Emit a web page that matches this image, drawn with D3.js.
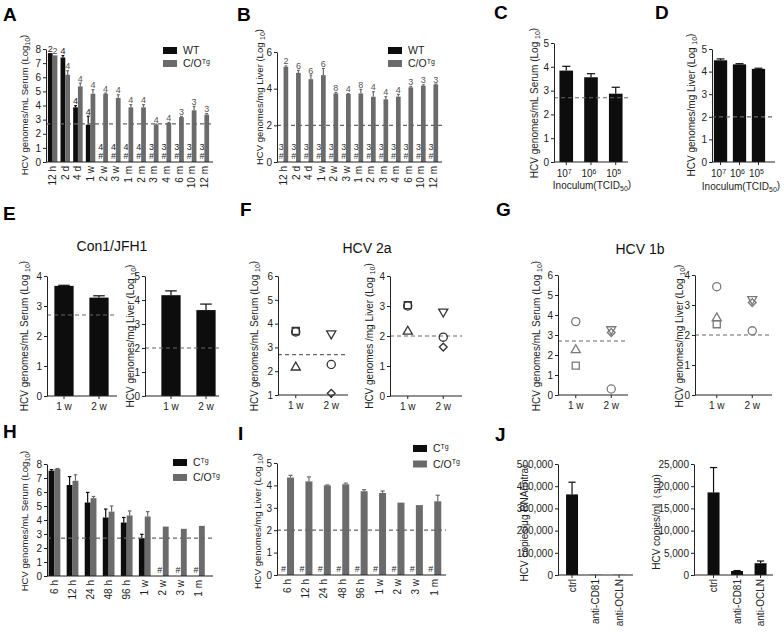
<!DOCTYPE html>
<meta charset="utf-8">
<script src="https://d3js.org/d3.v7.min.js"></script>
<style>
body { margin: 0; background: #fff; }
svg { font-family: "Liberation Sans", Arial, sans-serif; }
.axis text { font-size: 10px; fill: #222; }
.axis path, .axis line { stroke: #222; }
</style>
<body></body>
<script>
// ---------- data ----------
// A: serum, WT vs C/O Tg
var timeA = ["12 h","2 d","4 d","1 w","2 w","3 w","1 m","2 m","3 m","4 m","6 m","10 m","12 m"];
var wtSerumA = [7.71, 7.4, 3.87, 2.64, null, null, null, null, null, null, null, null, null];
var wtSerumErrA = [0, 0.13, 0.12, 0.6, 0, 0, 0, 0, 0, 0, 0, 0, 0];
var wtSerumNA = [2, 4, 4, 4, 4, 4, 4, 4, 3, 3, 3, 3, 3];
var coSerumA = [7.55, 6.18, 5.35, 4.83, 4.83, 4.53, 3.87, 3.87, 2.64, 2.76, 3.18, 3.66, 3.35];
var coSerumErrA = [0, 0.28, 0.24, 0.29, 0.05, 0.23, 0.19, 0.19, 0.04, 0.04, 0.05, 0.28, 0.08];
var coSerumNA = [2, 4, 4, 4, 4, 4, 4, 4, 4, 4, 3, 3, 3];

// B: liver, WT vs C/O Tg
var wtLiverB = [null, null, null, null, null, null, null, null, null, null, null, null, null];
var wtLiverNB = [3, 3, 3, 3, 3, 3, 3, 3, 3, 3, 3, 3, 3];
var coLiverB = [5.19, 4.86, 4.52, 4.74, 3.74, 3.71, 3.74, 3.56, 3.42, 3.56, 4.07, 4.16, 4.23];
var coLiverErrB = [0.05, 0.14, 0.22, 0.36, 0.05, 0.02, 0.22, 0.27, 0.14, 0.13, 0.05, 0.05, 0.02];
var coLiverNB = [2, 6, 6, 6, 8, 4, 8, 4, 4, 4, 3, 3, 3];

// C, D: inoculum dose (10^x TCID50)
var inoculum = ["7", "6", "5"];
var doseSerumC = [3.84, 3.56, 2.87];
var doseSerumErrC = [0.18, 0.15, 0.27];
var doseLiverD = [4.5, 4.32, 4.12];
var doseLiverErrD = [0.06, 0.03, 0.03];

// E: Con1/JFH1
var weeks = ["1 w", "2 w"];
var conSerumE = [3.67, 3.28];
var conSerumErrE = [0.02, 0.06];
var conLiverE = [4.2, 3.58];
var conLiverErrE = [0.18, 0.25];

// F: HCV 2a, individual animals
var hcv2aTime = ["1 w", "1 w", "1 w", "2 w", "2 w", "2 w"];
var hcv2aShape = ["square", "circle", "triangle", "triangleDown", "circle", "diamond"];
var hcv2aSerum = [3.69, 3.65, 2.16, 3.58, 2.28, 1.07];
var hcv2aLiver = [3.03, 3.0, 2.15, 2.81, 1.96, 1.63];

// G: HCV 1b, individual animals
var hcv1bTime = ["1 w", "1 w", "1 w", "2 w", "2 w", "2 w"];
var hcv1bShape = ["circle", "triangle", "square", "triangleDown", "diamond", "circle"];
var hcv1bSerum = [3.67, 2.25, 1.47, 3.28, 3.12, 0.3];
var hcv1bLiver = [3.61, 2.56, 2.36, 3.19, 3.08, 2.14];

// H, I: C Tg vs C/O Tg
var timeH = ["6 h","12 h","24 h","48 h","96 h","1 w","2 w","3 w","1 m"];
var cSerumH = [7.52, 6.5, 5.25, 4.18, 3.82, 2.7, null, null, null];
var cSerumErrH = [0.08, 0.6, 0.72, 0.6, 0.36, 0.28, 0, 0, 0];
var coSerumH = [7.66, 6.8, 5.56, 4.6, 4.32, 4.25, 3.53, 3.37, 3.58];
var coSerumErrH = [0.02, 0.43, 0.12, 0.4, 0.33, 0.35, 0, 0, 0];
var cLiverI = [null, null, null, null, null, null, null, null, null];
var coLiverI = [4.35, 4.18, 4.0, 4.05, 3.74, 3.66, 3.23, 3.12, 3.29];
var coLiverErrI = [0.1, 0.2, 0.02, 0.05, 0.07, 0.09, 0, 0, 0.27];

// J: antibody blocking
var treatJ = ["ctrl", "anti-CD81", "anti-OCLN"];
var intraJ = [363000, 1000, 800];
var intraErrJ = [55000, 0, 0];
var supJ = [18600, 900, 2650];
var supErrJ = [5600, 100, 500];

var BLACK = "#0d0d0d", GREY = "#6b6b6b", DASH = "#666";

var svg = d3.select("body").append("svg")
  .attr("width", 784)
  .attr("height", 633);

// ---------- helpers ----------
function letter(t, x, y) {
  svg.append("text").attr("x", x).attr("y", y)
    .style("font-size", "19px").style("font-weight", "bold").text(t);
}

function title(t, x, y) {
  svg.append("text").attr("x", x).attr("y", y).attr("text-anchor", "middle")
    .style("font-size", "14px").attr("fill", "#111").text(t);
}

function yLabel(x, yc, main, sub, tail, size) {
  var t = svg.append("text")
    .attr("transform", "translate(" + (x + 3) + "," + yc + ") rotate(-90)")
    .attr("text-anchor", "middle")
    .style("font-size", (size || 10) + "px")
    .attr("fill", "#222");
  t.append("tspan").text(main);
  if (sub) {
    t.append("tspan").attr("dy", "0.3em").style("font-size", "7px").text(sub);
    t.append("tspan").attr("dy", "-0.3em").text(tail);
  }
}

function legend(x, y, gap, names, sups, colors) {
  names.forEach(function(n, i) {
    svg.append("rect").attr("x", x).attr("y", y + i * gap)
      .attr("width", 14).attr("height", 7).attr("fill", colors[i]);
    var t = svg.append("text").attr("x", x + 20).attr("y", y + i * gap + 7)
      .style("font-size", "10.5px").attr("fill", "#222");
    t.append("tspan").text(n);
    t.append("tspan").attr("dy", "-0.45em").style("font-size", "7px").text(sups[i]);
  });
}

function yAxis(y, x0, ticks, fmt) {
  svg.append("g").attr("class", "axis")
    .attr("transform", "translate(" + x0 + ",0)")
    .call(d3.axisLeft(y).tickValues(ticks).tickSize(3).tickSizeOuter(0)
      .tickPadding(2).tickFormat(fmt || d3.format("d")));
}

function baseLine(x0, x1, y0) {
  svg.append("line").attr("x1", x0).attr("x2", x1).attr("y1", y0).attr("y2", y0)
    .attr("stroke", "#222");
}

function dashed(x0, x1, yv) {
  svg.append("line").attr("x1", x0).attr("x2", x1).attr("y1", yv).attr("y2", yv)
    .attr("stroke", DASH).attr("stroke-width", 1.2).attr("stroke-dasharray", "4,3");
}

function barPanel(c) {
  var y = d3.scaleLinear().domain(c.yDomain).range([c.y0, c.yTop]);
  var x = d3.scaleBand().domain(c.cats).range(c.band).paddingInner(c.pi).paddingOuter(c.po);
  var xs = d3.scaleBand().domain(d3.range(c.series.length)).range([0, x.bandwidth()]);
  var g = svg.append("g");

  c.series.forEach(function(s, i) {
    var rows = c.cats.map(function(k, j) {
      return {k: k, v: s.vals[j], e: s.errs ? s.errs[j] : 0, n: s.ns ? s.ns[j] : null};
    });
    var cx = function(d) { return x(d.k) + xs(i) + xs.bandwidth() / 2; };
    var cw = xs.bandwidth() * 0.3;
    var has = rows.filter(function(d) { return d.v != null; });
    var miss = rows.filter(function(d) { return d.v == null; });

    g.selectAll(null).data(has).enter().append("rect")
      .attr("x", function(d) { return x(d.k) + xs(i); })
      .attr("width", xs.bandwidth())
      .attr("y", function(d) { return y(d.v); })
      .attr("height", function(d) { return c.y0 - y(d.v); })
      .attr("fill", s.color);

    var eb = has.filter(function(d) { return d.e > 0; });
    g.selectAll(null).data(eb).enter().append("line")
      .attr("x1", cx).attr("x2", cx)
      .attr("y1", function(d) { return y(d.v); })
      .attr("y2", function(d) { return y(d.v + d.e); })
      .attr("stroke", s.color).attr("stroke-width", 1.2);
    g.selectAll(null).data(eb).enter().append("line")
      .attr("x1", function(d) { return cx(d) - cw; })
      .attr("x2", function(d) { return cx(d) + cw; })
      .attr("y1", function(d) { return y(d.v + d.e); })
      .attr("y2", function(d) { return y(d.v + d.e); })
      .attr("stroke", s.color).attr("stroke-width", 1.2);

    if (s.ns) {
      g.selectAll(null).data(has).enter().append("text")
        .attr("x", cx).attr("y", function(d) { return y(d.v + d.e) - 1.5; })
        .attr("text-anchor", "middle").style("font-size", "9px")
        .attr("fill", s.label).text(function(d) { return d.n; });
      g.selectAll(null).data(miss).enter().append("text")
        .attr("x", cx).attr("y", c.y0 - 12)
        .attr("text-anchor", "middle").style("font-size", "9px")
        .attr("fill", s.label).text(function(d) { return d.n; });
    }
    g.selectAll(null).data(miss).enter().append("text")
      .attr("x", cx).attr("y", c.y0 - 3)
      .attr("text-anchor", "middle").style("font-size", "9px")
      .attr("fill", s.label).text("#");
  });

  if (c.lod != null) dashed(c.x0, c.xEnd, y(c.lod));
  yAxis(y, c.x0, c.ticks, c.fmt);
  baseLine(c.x0, c.xEnd, c.y0);

  var mid = function(d) { return x(d) + x.bandwidth() / 2; };
  if (c.tickMarks) {
    g.selectAll(null).data(c.cats).enter().append("line")
      .attr("x1", mid).attr("x2", mid).attr("y1", c.y0).attr("y2", c.y0 + 3)
      .attr("stroke", "#222");
  }
  if (c.labels === "rot") {
    g.selectAll(null).data(c.cats).enter().append("text")
      .attr("transform", function(d) { return "translate(" + mid(d) + "," + (c.y0 + 4) + ") rotate(-90)"; })
      .attr("text-anchor", "end").attr("dy", "0.35em")
      .style("font-size", "10px").attr("fill", "#222").text(function(d) { return d; });
  } else if (c.labels === "pow") {
    var t = g.selectAll(null).data(c.cats).enter().append("text")
      .attr("x", function(d) { return mid(d) - 2; }).attr("y", c.y0 + 15)
      .attr("text-anchor", "middle").style("font-size", "10px").attr("fill", "#222");
    t.append("tspan").text("10");
    t.append("tspan").attr("dy", "-0.5em").style("font-size", "7px").text(function(d) { return d; });
  } else {
    g.selectAll(null).data(c.cats).enter().append("text")
      .attr("x", mid).attr("y", c.y0 + 14)
      .attr("text-anchor", "middle").style("font-size", "10px").attr("fill", "#222")
      .text(function(d) { return d; });
  }
}

var symType = {
  circle: [d3.symbolCircle, 52, 0],
  square: [d3.symbolSquare, 50, 0],
  triangle: [d3.symbolTriangle, 36, 0],
  triangleDown: [d3.symbolTriangle, 36, 180],
  diamond: [d3.symbolSquare, 30, 45]
};

function dotPanel(c) {
  var y = d3.scaleLinear().domain(c.yDomain).range([c.y0, c.yTop]);
  var x = d3.scalePoint().domain(weeks).range(c.pts).padding(0.5);
  if (c.lod != null) dashed(c.x0, c.xEnd, y(c.lod));
  yAxis(y, c.x0, c.ticks);
  baseLine(c.x0, c.xEnd, c.y0);
  svg.selectAll(null).data(weeks).enter().append("line")
    .attr("x1", function(d) { return x(d); }).attr("x2", function(d) { return x(d); })
    .attr("y1", c.y0).attr("y2", c.y0 + 3).attr("stroke", "#222");
  svg.selectAll(null).data(weeks).enter().append("text")
    .attr("x", function(d) { return x(d); }).attr("y", c.y0 + 14)
    .attr("text-anchor", "middle").style("font-size", "10px").attr("fill", "#222")
    .text(function(d) { return d; });
  svg.selectAll(null).data(d3.range(c.vals.length)).enter().append("path")
    .attr("transform", function(i) {
      return "translate(" + x(c.times[i]) + "," + y(c.vals[i]) + ") rotate(" + symType[c.shapes[i]][2] + ")";
    })
    .attr("d", function(i) {
      var st = symType[c.shapes[i]];
      return d3.symbol().type(st[0]).size(st[1])();
    })
    .attr("fill", "none").attr("stroke", c.color).attr("stroke-width", 1.3);
}

// ---------- A ----------
letter("A", 3, 21);
barPanel({
  cats: timeA, yDomain: [0, 8], y0: 162, yTop: 49, x0: 46, xEnd: 213,
  band: [46, 211], pi: 0.25, po: 0.15, ticks: d3.range(0, 9), lod: 2.7, labels: "rot",
  series: [
    {vals: wtSerumA, errs: wtSerumErrA, ns: wtSerumNA, color: BLACK, label: "#222"},
    {vals: coSerumA, errs: coSerumErrA, ns: coSerumNA, color: GREY, label: "#555"}
  ]
});
legend(163, 47, 13, ["WT", "C/O"], ["", "Tg"], [BLACK, GREY]);
yLabel(25, 105, "HCV genomes/mL Serum (Log", "10", ")", 9.5);

// ---------- B ----------
letter("B", 237, 21);
barPanel({
  cats: timeA, yDomain: [0, 6], y0: 162, yTop: 52, x0: 277, xEnd: 442,
  band: [277, 440], pi: 0.25, po: 0.15, ticks: [0, 2, 4, 6], lod: 2, labels: "rot",
  series: [
    {vals: wtLiverB, ns: wtLiverNB, color: BLACK, label: "#333"},
    {vals: coLiverB, errs: coLiverErrB, ns: coLiverNB, color: GREY, label: "#555"}
  ]
});
legend(388, 47, 13, ["WT", "C/O"], ["", "Tg"], [BLACK, GREY]);
yLabel(260, 97, "HCV genomes/mg Liver (Log ", "10", ")", 9.5);

// ---------- C ----------
letter("C", 494, 19);
barPanel({
  cats: inoculum, yDomain: [0, 5], y0: 162, yTop: 43, x0: 554, xEnd: 628,
  band: [554, 628], pi: 0.45, po: 0.22, ticks: d3.range(0, 6), lod: 2.7, labels: "pow", tickMarks: true,
  series: [{vals: doseSerumC, errs: doseSerumErrC, color: BLACK}]
});
yLabel(535, 103, "HCV genomes/mL Serum (Log ", "10", ")");
(function() {
  var t = svg.append("text").attr("x", 592).attr("y", 189).attr("text-anchor", "middle")
    .style("font-size", "10px").attr("fill", "#222");
  t.append("tspan").text("Inoculum(TCID");
  t.append("tspan").attr("dy", "0.3em").style("font-size", "7px").text("50");
  t.append("tspan").attr("dy", "-0.3em").text(")");
})();

// ---------- D ----------
letter("D", 655, 19);
barPanel({
  cats: inoculum, yDomain: [0, 5], y0: 162, yTop: 49, x0: 712, xEnd: 775,
  band: [712, 767], pi: 0.3, po: 0.1, ticks: d3.range(0, 6), lod: 2, labels: "pow", tickMarks: true,
  series: [{vals: doseLiverD, errs: doseLiverErrD, color: BLACK}]
});
yLabel(692, 105, "HCV genomes/mg Liver (Log ", "10", ")");
(function() {
  var t = svg.append("text").attr("x", 741).attr("y", 190).attr("text-anchor", "middle")
    .style("font-size", "10px").attr("fill", "#222");
  t.append("tspan").text("Inoculum(TCID");
  t.append("tspan").attr("dy", "0.3em").style("font-size", "7px").text("50");
  t.append("tspan").attr("dy", "-0.3em").text(")");
})();

// ---------- E ----------
letter("E", 3, 220);
title("Con1/JFH1", 112, 251);
barPanel({
  cats: weeks, yDomain: [0, 4], y0: 396, yTop: 276, x0: 47, xEnd: 117,
  band: [46.5, 116.5], pi: 0.45, po: 0.225, ticks: d3.range(0, 5), lod: 2.7, tickMarks: true,
  series: [{vals: conSerumE, errs: conSerumErrE, color: BLACK}]
});
yLabel(25, 336, "HCV genomes/mL Serum (Log ", "10", ")");
barPanel({
  cats: weeks, yDomain: [0, 5], y0: 396, yTop: 276, x0: 145, xEnd: 219,
  band: [153.5, 223.5], pi: 0.45, po: 0.225, ticks: d3.range(0, 6), lod: 2, tickMarks: true,
  series: [{vals: conLiverE, errs: conLiverErrE, color: BLACK}]
});
yLabel(131, 336, "HCV genomes/mg Liver (Log ", "10", ")");

// ---------- F ----------
letter("F", 240, 216);
title("HCV 2a", 367, 253);
dotPanel({
  times: hcv2aTime, shapes: hcv2aShape, vals: hcv2aSerum, color: "#333",
  yDomain: [1, 6], y0: 395, yTop: 276, x0: 278, xEnd: 348, pts: [278, 349],
  ticks: d3.range(1, 7), lod: 2.7
});
yLabel(255, 336, "HCV genomes/mL Serum (Log ", "10", ")");
dotPanel({
  times: hcv2aTime, shapes: hcv2aShape, vals: hcv2aLiver, color: "#333",
  yDomain: [0, 4], y0: 396, yTop: 276, x0: 390, xEnd: 462, pts: [390, 461],
  ticks: d3.range(0, 5), lod: 2
});
yLabel(370, 336, "HCV genomes /mg Liver (Log ", "10", ")");

// ---------- G ----------
letter("G", 496, 216);
title("HCV 1b", 640, 254);
dotPanel({
  times: hcv1bTime, shapes: hcv1bShape, vals: hcv1bSerum, color: "#7a7a7a",
  yDomain: [0, 6], y0: 395, yTop: 275, x0: 558, xEnd: 628, pts: [558, 629],
  ticks: d3.range(0, 7), lod: 2.7
});
yLabel(537, 336, "HCV genomes/mL Serum (Log ", "10", ")");
dotPanel({
  times: hcv1bTime, shapes: hcv1bShape, vals: hcv1bLiver, color: "#7a7a7a",
  yDomain: [0, 4], y0: 395, yTop: 275, x0: 695, xEnd: 772, pts: [699, 770],
  ticks: d3.range(0, 5), lod: 2
});
yLabel(680, 336, "HCV genomes/mg Liver (Log ", "10", ")");

// ---------- H ----------
letter("H", 3, 438);
barPanel({
  cats: timeH, yDomain: [0, 8], y0: 576, yTop: 464, x0: 47, xEnd: 213,
  band: [46.8, 206.6], pi: 0.35, po: 0.1, ticks: d3.range(0, 9), lod: 2.7, labels: "rot",
  series: [
    {vals: cSerumH, errs: cSerumErrH, color: BLACK, label: "#222"},
    {vals: coSerumH, errs: coSerumErrH, color: GREY, label: "#555"}
  ]
});
legend(173, 459, 15, ["C", "C/O"], ["Tg", "Tg"], [BLACK, GREY]);
yLabel(25, 521, "HCV genomes/mL Serum (Log", "10", ")", 9.5);

// ---------- I ----------
letter("I", 238, 440);
barPanel({
  cats: timeH, yDomain: [0, 5], y0: 575, yTop: 463, x0: 277, xEnd: 446,
  band: [278.2, 443.1], pi: 0.24, po: 0.1, ticks: d3.range(0, 6), lod: 2, labels: "rot",
  series: [
    {vals: cLiverI, color: BLACK, label: "#222"},
    {vals: coLiverI, errs: coLiverErrI, color: GREY, label: "#555"}
  ]
});
legend(413, 445, 15.5, ["C", "C/O"], ["Tg", "Tg"], [BLACK, GREY]);
yLabel(258, 521, "HCV genomes/mg Liver (Log ", "10", ")", 9.5);

// ---------- J ----------
letter("J", 495, 441);
barPanel({
  cats: treatJ, yDomain: [0, 500000], y0: 575, yTop: 464, x0: 558, xEnd: 633,
  band: [563.7, 627.4], pi: 0.49, po: 0.1, ticks: d3.range(0, 500001, 100000), fmt: d3.format(","),
  labels: "rot", tickMarks: true,
  series: [{vals: intraJ, errs: intraErrJ, color: BLACK}]
});
yLabel(525, 523, "HCV copies/\u03bcg RNA(intra)");
barPanel({
  cats: treatJ, yDomain: [0, 25000], y0: 575, yTop: 464, x0: 694, xEnd: 773,
  band: [705.2, 768.9], pi: 0.49, po: 0.1, ticks: d3.range(0, 25001, 5000), fmt: d3.format(","),
  labels: "rot", tickMarks: true,
  series: [{vals: supJ, errs: supErrJ, color: BLACK}]
});
yLabel(657, 522, "HCV copies/ml\uff08sup)");
</script>
